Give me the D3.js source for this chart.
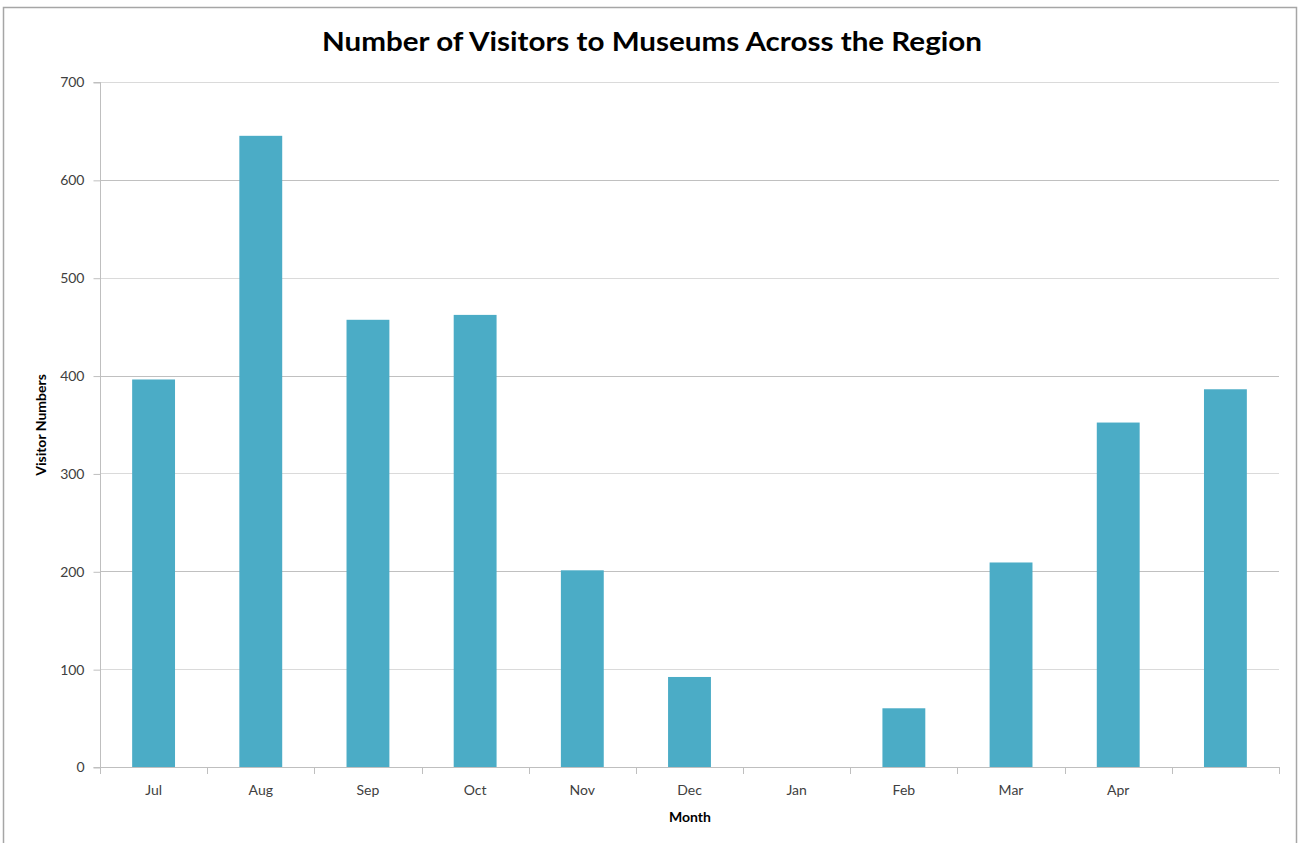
<!DOCTYPE html>
<html><head><meta charset="utf-8">
<script src="https://cdn.jsdelivr.net/npm/d3@7"></script>
<style>body{margin:0;background:#fff}svg{display:block}</style>
</head><body>
<svg id="chart" width="1305" height="843"></svg>
<script>
const categories = ["Jul","Aug","Sep","Oct","Nov","Dec","Jan","Feb","Mar","Apr",""];
const visitors = [396, 645, 457, 462, 201, 92, 0, 60, 209, 352, 386];
const yTicks = [0,100,200,300,400,500,600,700];
const title = "Number of Visitors to Museums Across the Region";

const svg = d3.select("#chart");
const font = "Lato, 'Open Sans', sans-serif";
const m = {left:100, right:1279, top:82, bottom:767};

svg.append("rect").attr("x",3.5).attr("y",7.5).attr("width",1293).attr("height",850)
  .attr("fill","#fff").attr("stroke","#a6a6a6").attr("stroke-width",1.5);

const x = d3.scaleBand().domain(d3.range(categories.length)).range([m.left,m.right]).paddingInner(0.6).paddingOuter(0.3);
const xb = d3.scaleBand().domain(d3.range(categories.length)).range([m.left,m.right]);
const y = d3.scaleLinear().domain([0,700]).range([m.bottom,m.top]);

// gridlines
svg.append("g").selectAll("line").data(yTicks.filter(d=>d>0)).join("line")
  .attr("x1",m.left).attr("x2",m.right).attr("y1",d=>Math.round(y(d))+0.5).attr("y2",d=>Math.round(y(d))+0.5)
  .attr("stroke",d=>d%200===0?"#c0c0c0":"#dadada").attr("stroke-width",1.2);

// bars
svg.append("g").selectAll("rect").data(visitors).join("rect")
  .attr("x",(d,i)=>x(i)).attr("width",x.bandwidth())
  .attr("y",d=>y(d)).attr("height",d=>y(0)-y(d))
  .attr("fill","#4bacc6");

// y axis
const yAxis = d3.axisLeft(y).tickValues(yTicks).tickSize(7).tickPadding(9).tickFormat(d3.format("d"));
const gy = svg.append("g").attr("transform",`translate(${m.left+0.5},0.5)`).call(yAxis);
gy.select(".domain").attr("stroke","#bfbfbf").attr("d",`M-7,${m.bottom}H0V${m.top}H-7`);
gy.selectAll(".tick line").attr("stroke","#bfbfbf");
gy.selectAll("text").attr("font-family",font).attr("font-size",14).attr("fill","#404040");

// x axis
const xAxis = d3.axisBottom(x).tickFormat(i=>categories[i]).tickSize(0).tickPadding(18);
const gx = svg.append("g").attr("transform",`translate(0,${m.bottom+0.5})`).call(xAxis);
gx.select(".domain").attr("stroke","#bfbfbf").attr("d",`M${m.left},0H${m.right}`);
gx.selectAll("text").attr("font-family",font).attr("font-size",14).attr("fill","#404040");
svg.append("g").selectAll("line").data(d3.range(categories.length+1)).join("line")
  .attr("x1",i=>Math.round(i<categories.length?xb(i):m.right)+0.5).attr("x2",i=>Math.round(i<categories.length?xb(i):m.right)+0.5)
  .attr("y1",m.bottom).attr("y2",m.bottom+7).attr("stroke","#bfbfbf");

// title
svg.append("text").attr("x",652).attr("y",51).attr("text-anchor","middle")
  .attr("font-family",font).attr("font-weight","bold").attr("font-size",27).attr("fill","#000")
  .attr("textLength",660).attr("lengthAdjust","spacingAndGlyphs").text(title);

// axis titles
svg.append("text").attr("x",690).attr("y",822).attr("text-anchor","middle")
  .attr("font-family",font).attr("font-weight","bold").attr("font-size",14).attr("fill","#000").text("Month");
svg.append("text").attr("transform","translate(46,425) rotate(-90)").attr("text-anchor","middle")
  .attr("font-family",font).attr("font-weight","bold").attr("font-size",14).attr("fill","#000").text("Visitor Numbers");
</script>
</body></html>
